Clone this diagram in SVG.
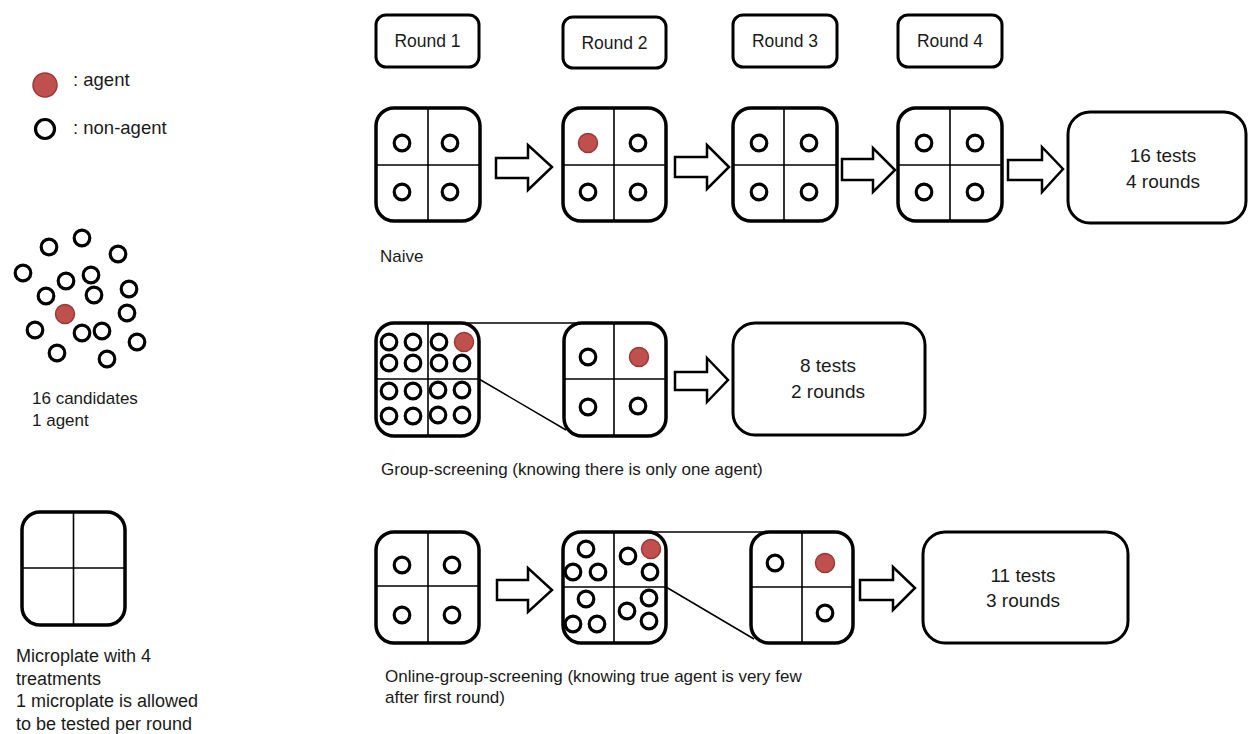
<svg xmlns="http://www.w3.org/2000/svg" width="1248" height="734" viewBox="0 0 1248 734">
<style>
text{font-family:"Liberation Sans",Arial,sans-serif;fill:#1a1a1a}
.t{font-size:17px}
.lg{font-size:18.5px}
.mp{font-size:18px}
.r{font-size:17.5px;text-anchor:middle}
.res{font-size:19px;text-anchor:middle}
.plate{fill:#fff;stroke:#000;stroke-width:3.5}
.div{stroke:#000;stroke-width:1.6;fill:none}
.box{fill:#fff;stroke:#000;stroke-width:3}
.na{fill:#fff;stroke:#000;stroke-width:3.2}
.ag{fill:#C0504D;stroke:#9A3936;stroke-width:1.5}
.arr{fill:#fff;stroke:#000;stroke-width:2.5;stroke-linejoin:miter}
.zl{stroke:#000;stroke-width:1.5;fill:none}
</style>

<g id="legend">
<circle class="ag" cx="45" cy="85" r="12"/>
<text class="lg" x="73" y="86">: agent</text>
<circle class="na" cx="45" cy="129" r="9.5"/>
<text class="lg" x="73" y="134">: non-agent</text>
</g>

<g id="candidates">
<circle class="na" cx="49" cy="247" r="7.8"/>
<circle class="na" cx="82" cy="238" r="7.8"/>
<circle class="na" cx="118" cy="254" r="7.8"/>
<circle class="na" cx="23" cy="273" r="7.8"/>
<circle class="na" cx="66" cy="281" r="7.8"/>
<circle class="na" cx="91" cy="275" r="7.8"/>
<circle class="na" cx="46" cy="296" r="7.8"/>
<circle class="na" cx="94" cy="295" r="7.8"/>
<circle class="na" cx="129" cy="289" r="7.8"/>
<circle class="ag" cx="65" cy="314" r="9.5"/>
<circle class="na" cx="127" cy="313" r="7.8"/>
<circle class="na" cx="35" cy="330" r="7.8"/>
<circle class="na" cx="82" cy="333" r="7.8"/>
<circle class="na" cx="102" cy="331" r="7.8"/>
<circle class="na" cx="137" cy="342" r="7.8"/>
<circle class="na" cx="57" cy="353" r="7.8"/>
<circle class="na" cx="107" cy="359" r="7.8"/>
<text class="t" x="32" y="404">16 candidates</text>
<text class="t" x="32" y="426">1 agent</text>
</g>

<g id="microplate-legend">
<rect class="plate" x="22" y="512" width="103" height="113" rx="18"/>
<line class="div" x1="73.5" y1="512" x2="73.5" y2="625"/>
<line class="div" x1="22" y1="568" x2="125" y2="568"/>
<text class="mp" x="16" y="662">Microplate with 4</text>
<text class="mp" x="16" y="685">treatments</text>
<text class="mp" x="16" y="707">1 microplate is allowed</text>
<text class="mp" x="16" y="730">to be tested per round</text>
</g>

<g id="round1"><rect class="box" x="376" y="15" width="103" height="52" rx="10"/><text class="r" x="427.5" y="47">Round 1</text></g>
<g id="round2"><rect class="box" x="563" y="17" width="103" height="51" rx="10"/><text class="r" x="614.5" y="49">Round 2</text></g>
<g id="round3"><rect class="box" x="733" y="15" width="104" height="52" rx="10"/><text class="r" x="785" y="47">Round 3</text></g>
<g id="round4"><rect class="box" x="898" y="15" width="104" height="52" rx="10"/><text class="r" x="950" y="47">Round 4</text></g>

<g id="naive-plate1">
<rect class="plate" x="376" y="108" width="104" height="113" rx="18"/>
<line class="div" x1="428" y1="108" x2="428" y2="221"/>
<line class="div" x1="376" y1="165" x2="480" y2="165"/>
<circle class="na" cx="402" cy="143" r="7.8"/><circle class="na" cx="450" cy="143" r="7.8"/>
<circle class="na" cx="402" cy="192" r="7.8"/><circle class="na" cx="450" cy="192" r="7.8"/>
</g>
<g id="naive-plate2">
<rect class="plate" x="563" y="108" width="103" height="113" rx="18"/>
<line class="div" x1="614" y1="108" x2="614" y2="221"/>
<line class="div" x1="563" y1="165" x2="666" y2="165"/>
<circle class="ag" cx="588" cy="143" r="9.5"/><circle class="na" cx="638" cy="143" r="7.8"/>
<circle class="na" cx="588" cy="192" r="7.8"/><circle class="na" cx="638" cy="192" r="7.8"/>
</g>
<g id="naive-plate3">
<rect class="plate" x="733" y="108" width="104" height="113" rx="18"/>
<line class="div" x1="784" y1="108" x2="784" y2="221"/>
<line class="div" x1="733" y1="165" x2="837" y2="165"/>
<circle class="na" cx="759" cy="143" r="7.8"/><circle class="na" cx="809" cy="143" r="7.8"/>
<circle class="na" cx="759" cy="192" r="7.8"/><circle class="na" cx="809" cy="192" r="7.8"/>
</g>
<g id="naive-plate4">
<rect class="plate" x="898" y="108" width="104" height="113" rx="18"/>
<line class="div" x1="950" y1="108" x2="950" y2="221"/>
<line class="div" x1="898" y1="165" x2="1002" y2="165"/>
<circle class="na" cx="924" cy="143" r="7.8"/><circle class="na" cx="975" cy="143" r="7.8"/>
<circle class="na" cx="924" cy="192" r="7.8"/><circle class="na" cx="975" cy="192" r="7.8"/>
</g>
<g id="naive-result">
<rect class="box" x="1068" y="112" width="178" height="111" rx="22"/>
<text class="res" x="1163" y="162">16 tests</text>
<text class="res" x="1163" y="188">4 rounds</text>
</g>
<text class="t" x="380" y="262">Naive</text>

<g id="group-plate1">
<rect class="plate" x="376" y="323" width="103" height="113" rx="18"/>
<line class="div" x1="428" y1="323" x2="428" y2="436"/>
<line class="div" x1="376" y1="379" x2="479" y2="379"/>
<circle class="na" cx="389" cy="342" r="7.8"/><circle class="na" cx="413" cy="342" r="7.8"/>
<circle class="na" cx="389" cy="363" r="7.8"/><circle class="na" cx="413" cy="363" r="7.8"/>
<circle class="na" cx="439" cy="342" r="7.8"/><circle class="ag" cx="464" cy="342" r="9.5"/>
<circle class="na" cx="439" cy="363" r="7.8"/><circle class="na" cx="462" cy="363" r="7.8"/>
<circle class="na" cx="389" cy="391" r="7.8"/><circle class="na" cx="413" cy="391" r="7.8"/>
<circle class="na" cx="389" cy="416" r="7.8"/><circle class="na" cx="413" cy="416" r="7.8"/>
<circle class="na" cx="438" cy="390" r="7.8"/><circle class="na" cx="462" cy="390" r="7.8"/>
<circle class="na" cx="438" cy="415" r="7.8"/><circle class="na" cx="462" cy="415" r="7.8"/>
</g>
<g id="group-plate2">
<rect class="plate" x="564" y="323" width="102" height="113" rx="18"/>
<line class="div" x1="614" y1="323" x2="614" y2="436"/>
<line class="div" x1="564" y1="379" x2="666" y2="379"/>
<circle class="na" cx="588" cy="357" r="7.8"/><circle class="ag" cx="639" cy="357" r="9.5"/>
<circle class="na" cx="588" cy="407" r="7.8"/><circle class="na" cx="638" cy="406" r="7.8"/>
</g>
<g id="group-result">
<rect class="box" x="733" y="323" width="192" height="112" rx="22"/>
<text class="res" x="828" y="372">8 tests</text>
<text class="res" x="828" y="398">2 rounds</text>
</g>
<text class="t" x="381" y="475">Group-screening (knowing there is only one agent)</text>

<g id="online-plate1">
<rect class="plate" x="376" y="532" width="103" height="111" rx="18"/>
<line class="div" x1="428" y1="532" x2="428" y2="643"/>
<line class="div" x1="376" y1="586" x2="479" y2="586"/>
<circle class="na" cx="402" cy="565" r="7.8"/><circle class="na" cx="452" cy="565" r="7.8"/>
<circle class="na" cx="402" cy="615" r="7.8"/><circle class="na" cx="452" cy="615" r="7.8"/>
</g>
<g id="online-plate2">
<rect class="plate" x="563" y="532" width="103" height="111" rx="18"/>
<line class="div" x1="614" y1="532" x2="614" y2="643"/>
<line class="div" x1="563" y1="587" x2="666" y2="587"/>
<circle class="na" cx="586" cy="549" r="7.8"/><circle class="na" cx="573" cy="572" r="7.8"/><circle class="na" cx="598" cy="572" r="7.8"/>
<circle class="na" cx="628" cy="556" r="7.8"/><circle class="ag" cx="651" cy="549" r="9.5"/><circle class="na" cx="650" cy="572" r="7.8"/>
<circle class="na" cx="586" cy="599" r="7.8"/><circle class="na" cx="573" cy="624" r="7.8"/><circle class="na" cx="597" cy="624" r="7.8"/>
<circle class="na" cx="627" cy="611" r="7.8"/><circle class="na" cx="649" cy="598" r="7.8"/><circle class="na" cx="649" cy="621" r="7.8"/>
</g>
<g id="online-plate3">
<rect class="plate" x="751" y="532" width="102" height="111" rx="18"/>
<line class="div" x1="802" y1="532" x2="802" y2="643"/>
<line class="div" x1="751" y1="587" x2="853" y2="587"/>
<circle class="na" cx="775" cy="563" r="7.8"/><circle class="ag" cx="825" cy="563" r="9.5"/>
<circle class="na" cx="825" cy="613" r="7.8"/>
</g>
<g id="online-result">
<rect class="box" x="923" y="532" width="205" height="111" rx="22"/>
<text class="res" x="1023" y="582">11 tests</text>
<text class="res" x="1023" y="607">3 rounds</text>
</g>
<text class="t" x="385" y="682">Online-group-screening (knowing true agent is very few</text>
<text class="t" x="385" y="703">after first round)</text>

<g id="connectors">
<polygon class="arr" points="496,158 528,158 528,145 552,167 528,190 528,178 496,178"/>
<polygon class="arr" points="675,157 707,157 707,145 729,167 707,189 707,177 675,177"/>
<polygon class="arr" points="842,159 873,159 873,148 895,170 873,192 873,180 842,180"/>
<polygon class="arr" points="1008,160 1042,160 1042,147 1063,169 1042,192 1042,180 1008,180"/>
<polygon class="arr" points="675,372 707,372 707,358 728,380 707,402 707,390 675,390"/>
<polygon class="arr" points="497,580 528,580 528,568 552,590 528,612 528,600 497,600"/>
<polygon class="arr" points="860,580 893,580 893,567 915,588 893,610 893,600 860,600"/>
<line class="zl" x1="466" y1="323" x2="580" y2="323"/>
<line class="zl" x1="479" y1="379" x2="566" y2="430"/>
<line class="zl" x1="652" y1="532" x2="765" y2="532"/>
<line class="zl" x1="666" y1="587" x2="754" y2="639"/>
</g>
</svg>
